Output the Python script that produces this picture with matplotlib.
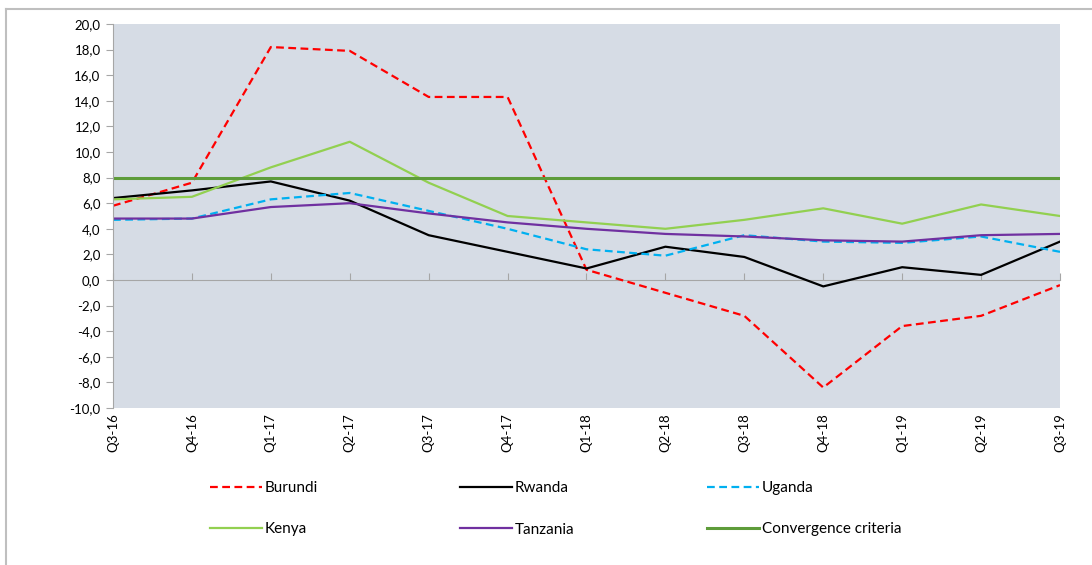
import matplotlib
matplotlib.use("Agg")
import matplotlib.pyplot as plt
from matplotlib.lines import Line2D

quarters = ["Q3-16", "Q4-16", "Q1-17", "Q2-17", "Q3-17", "Q4-17", "Q1-18",
            "Q2-18", "Q3-18", "Q4-18", "Q1-19", "Q2-19", "Q3-19"]

burundi = [5.8, 7.6, 18.2, 17.9, 14.3, 14.3, 0.8, -1.0, -2.8, -8.4, -3.6, -2.8, -0.4]
rwanda = [6.4, 7.0, 7.7, 6.2, 3.5, 2.2, 0.9, 2.6, 1.8, -0.5, 1.0, 0.4, 3.0]
uganda = [4.7, 4.8, 6.3, 6.8, 5.4, 4.0, 2.4, 1.9, 3.5, 3.0, 2.9, 3.4, 2.2]
kenya = [6.3, 6.5, 8.8, 10.8, 7.6, 5.0, 4.5, 4.0, 4.7, 5.6, 4.4, 5.9, 5.0]
tanzania = [4.8, 4.8, 5.7, 6.0, 5.2, 4.5, 4.0, 3.6, 3.4, 3.1, 3.0, 3.5, 3.6]
criteria = 8.0

plt.rcParams["font.family"] = ["Lato", "DejaVu Sans"]

W, H = 1092, 565
fig = plt.figure(figsize=(W / 100, H / 100), dpi=100)

# outer chart frame (only top and left edges visible)
fig.add_artist(Line2D([6 / W, 1.0], [1 - 9 / H, 1 - 9 / H], color="#BFBFBF", lw=1.5))
fig.add_artist(Line2D([6 / W, 6 / W], [0, 1 - 9 / H], color="#BFBFBF", lw=1.5))

ax = fig.add_axes([113 / W, (H - 408) / H, 947 / W, 384 / H])
ax.set_facecolor("#D6DCE5")

x = list(range(len(quarters)))
l_bur, = ax.plot(x, burundi, color="#FF0000", lw=1.6, dashes=(3.5, 2.0), label="Burundi")
l_rwa, = ax.plot(x, rwanda, color="black", lw=1.6, label="Rwanda")
l_uga, = ax.plot(x, uganda, color="#00B0F0", lw=1.6, dashes=(3.5, 2.0), label="Uganda")
l_ken, = ax.plot(x, kenya, color="#92D050", lw=1.6, label="Kenya")
l_tan, = ax.plot(x, tanzania, color="#7030A0", lw=1.6, label="Tanzania")
l_cc, = ax.plot(x, [criteria] * len(x), color="#5E9C3A", lw=2.2, label="Convergence criteria")

ax.set_xlim(0, len(x) - 1)
ax.set_ylim(-10, 20)
ax.set_yticks(range(-10, 21, 2))
ax.set_yticklabels([f"{v:.1f}".replace(".", ",") for v in range(-10, 21, 2)])
ax.set_xticks(x)
ax.set_xticklabels(quarters, rotation=90)

for s in ["top", "right", "bottom"]:
    ax.spines[s].set_visible(False)
ax.spines["left"].set_color("#A6A6A6")
ax.tick_params(axis="y", length=5, color="#A6A6A6", labelsize=9.5, pad=4)
ax.tick_params(axis="x", length=0, labelsize=9.5, pad=4)

# category axis crossing at zero, ticks pointing up
zero_axis = ax.secondary_xaxis(10 / 30)
zero_axis.set_xticks(x)
zero_axis.tick_params(direction="in", length=5, color="#A6A6A6", labelbottom=False, labeltop=False)
zero_axis.spines["bottom"].set_color("#A6A6A6")

columns = [([l_bur, l_ken], 210), ([l_rwa, l_tan], 460), ([l_uga, l_cc], 707)]
for handles, xp in columns:
    fig.legend(handles=handles, loc="upper left", bbox_to_anchor=(xp / W, 1 - 481 / H),
               frameon=False, fontsize=11, handlelength=3.4, handletextpad=0.2,
               labelspacing=1.8, borderpad=0, borderaxespad=0)

fig.savefig("out.png", dpi=100)
